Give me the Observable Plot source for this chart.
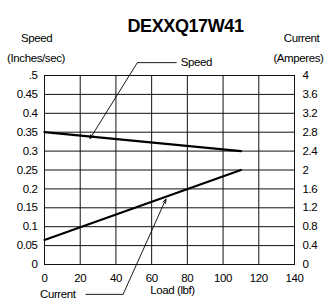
<!DOCTYPE html>
<html><head><meta charset="utf-8">
<script src="https://cdn.jsdelivr.net/npm/d3@7"></script>
<script src="https://cdn.jsdelivr.net/npm/@observablehq/plot@0.6"></script>
<style>html,body{margin:0;padding:0;background:#fff;overflow:hidden}#chart svg{display:block}</style>
</head><body><div id="chart"></div>
<script>
// ---- data ----
const chartTitle = "DEXXQ17W41";
const loadTicks = [0, 20, 40, 60, 80, 100, 120, 140];
const speedTicks = [0, 0.05, 0.1, 0.15, 0.2, 0.25, 0.3, 0.35, 0.4, 0.45, 0.5];
const speedTickLabels = ["0", "0.05", "0.1", "0.15", "0.2", "0.25", "0.3", "0.35", "0.4", "0.45", ".5"];
const currentTickLabels = ["0", "0.4", "0.8", "1.2", "1.6", "2", "2.4", "2.8", "3.2", "3.6", "4"];
const ampsPerSpeedUnit = 8; // 4 A on right axis == 0.5 in/s on left axis

const load = [0, 110];
const speed = [0.35, 0.30];     // in/s
const current = [0.52, 2.0];    // A

// callouts (data units): leader end x, elbow x, leader y, arrow tip
const speedCallout = {label: "Speed", endX: 74, elbowX: 52, leaderY: 0.534, tipX: 25.5, tipY: 0.333};
const currentCallout = {label: "Current", endX: 23, elbowX: 44, leaderY: -0.079, tipX: 68, tipY: 0.173};

// ---- build ----
const speedRows = load.map((l, i) => ({load: l, v: speed[i]}));
const currentRows = load.map((l, i) => ({load: l, v: current[i] / ampsPerSpeedUnit}));
const font = "'Liberation Sans Narrow', 'Arial Narrow', 'Liberation Sans', Arial, sans-serif";
const callouts = [speedCallout, currentCallout];

const chart = Plot.plot({
  width: 324,
  height: 303,
  marginTop: 75,
  marginBottom: 39,
  marginLeft: 44,
  marginRight: 30,
  style: {fontFamily: font, fontSize: "11.5px", letterSpacing: "-0.4px", color: "#000", background: "#fff", overflow: "visible"},
  x: {domain: [0, 140]},
  y: {domain: [0, 0.5]},
  marks: [
    Plot.gridX(loadTicks.slice(1, -1), {stroke: "#111", strokeOpacity: 1, strokeWidth: 1}),
    Plot.gridY(speedTicks.slice(1, -1), {stroke: "#111", strokeOpacity: 1, strokeWidth: 1}),
    Plot.frame({stroke: "#111", strokeWidth: 1}),
    Plot.axisX(loadTicks, {tickSize: 0, tickPadding: 9, label: null, tickFormat: d => String(d)}),
    Plot.axisY(speedTicks, {anchor: "left", tickSize: 0, tickPadding: 7, label: null,
      tickFormat: d => speedTickLabels[speedTicks.indexOf(d)]}),
    Plot.axisY(speedTicks, {anchor: "right", tickSize: 0, tickPadding: 8, label: null,
      tickFormat: d => currentTickLabels[speedTicks.indexOf(d)]}),
    Plot.line(speedRows, {x: "load", y: "v", stroke: "#000", strokeWidth: 2.2}),
    Plot.line(currentRows, {x: "load", y: "v", stroke: "#000", strokeWidth: 2.2}),
    // callout leaders
    Plot.link(callouts, {x1: "endX", x2: "elbowX", y1: "leaderY", y2: "leaderY", stroke: "#000", strokeWidth: 0.9}),
    Plot.arrow(callouts, {x1: "elbowX", y1: "leaderY", x2: "tipX", y2: "tipY", stroke: "#000", strokeWidth: 0.9, headLength: 7, headAngle: 40}),
    Plot.text([speedCallout], {x: "endX", y: "leaderY", text: "label", textAnchor: "start", dx: 4}),
    Plot.text([currentCallout], {x: "endX", y: "leaderY", text: "label", textAnchor: "end", dx: -10}),
    // titles
    Plot.text([chartTitle], {frameAnchor: "top", text: d => d, dx: 16, dy: -56, fontSize: 18, fontWeight: "bold",
      fontFamily: "'Liberation Sans', Arial, sans-serif"}),
    Plot.text(["Speed"], {frameAnchor: "top-left", text: d => d, textAnchor: "middle", dx: -8, dy: -42}),
    Plot.text(["(Inches/sec)"], {frameAnchor: "top-left", text: d => d, textAnchor: "middle", dx: -8.5, dy: -22}),
    Plot.text(["Current"], {frameAnchor: "top-right", text: d => d, textAnchor: "middle", dx: 7, dy: -42}),
    Plot.text(["(Amperes)"], {frameAnchor: "top-right", text: d => d, textAnchor: "end", dx: 29, dy: -22}),
    Plot.text(["Load (lbf)"], {frameAnchor: "bottom", text: d => d, dx: 3, dy: 29})
  ]
});
document.getElementById("chart").append(chart);
</script>
</body></html>
